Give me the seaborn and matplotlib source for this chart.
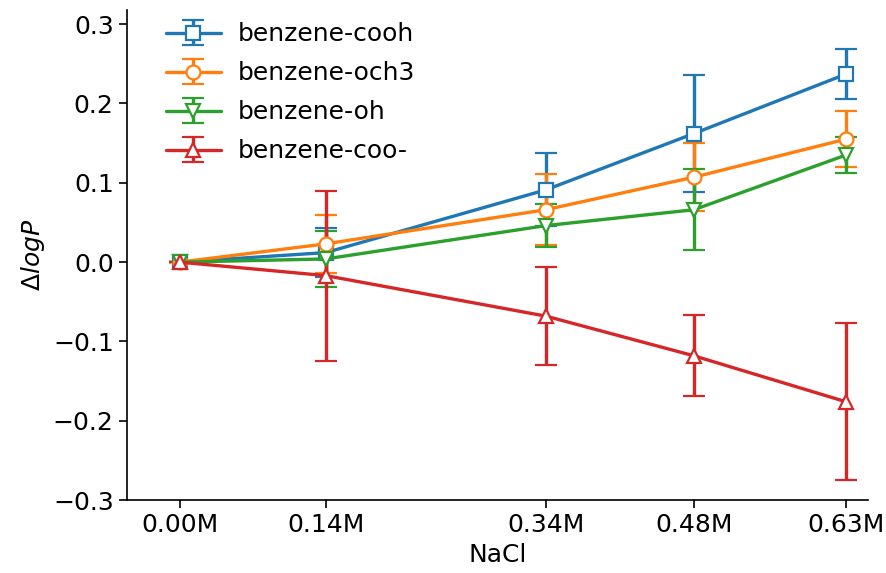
import matplotlib
matplotlib.use("Agg")
import matplotlib.pyplot as plt
import seaborn as sns

# NaCl concentrations (M) and tick labels
conc = [0.0, 0.138, 0.346, 0.486, 0.63]
conc_labels = ["0.00M", "0.14M", "0.34M", "0.48M", "0.63M"]

series_names = ["benzene-cooh", "benzene-och3", "benzene-oh", "benzene-coo-"]

cooh = [0.0, 0.012, 0.091, 0.162, 0.237]
cooh_err = [0.0, 0.031, 0.046, 0.074, 0.032]

och3 = [0.0, 0.023, 0.066, 0.107, 0.155]
och3_err = [0.0, 0.037, 0.045, 0.043, 0.035]

oh = [0.0, 0.004, 0.046, 0.066, 0.135]
oh_err = [0.0, 0.035, 0.027, 0.051, 0.023]

coo = [0.0, -0.017, -0.068, -0.118, -0.176]
coo_err = [0.0, 0.107, 0.062, 0.051, 0.099]

sns.set_style("ticks", rc={
    "axes.edgecolor": "black",
    "axes.labelcolor": "black",
    "text.color": "black",
    "xtick.color": "black",
    "ytick.color": "black",
})
palette = sns.color_palette("tab10")
plt.rcParams["font.family"] = ["DejaVu Sans"]

fig, ax = plt.subplots(figsize=(8.87, 5.73), dpi=100)
fig.subplots_adjust(left=0.143, right=0.979, bottom=0.127, top=0.983)

markers = ["s", "o", "v", "^"]
values = [cooh, och3, oh, coo]
errors = [cooh_err, och3_err, oh_err, coo_err]

for i, (name, y, e, m) in enumerate(zip(series_names, values, errors, markers)):
    ax.errorbar(conc, y, yerr=e, label=name, color=palette[i], marker=m,
                markersize=10, markerfacecolor="white", markeredgewidth=1.6,
                linewidth=2.4, elinewidth=2.4, capsize=8, capthick=2.4)

ax.set_xticks(conc)
ax.set_xticklabels(conc_labels)
ax.set_xlim(-0.05, 0.651)
ax.set_ylim(-0.3, 0.318)
ax.set_yticks([-0.3, -0.2, -0.1, 0.0, 0.1, 0.2, 0.3])
ax.tick_params(labelsize=18, width=1.2, length=6)
ax.set_xlabel("NaCl", fontsize=18)
ax.set_ylabel(r"$\Delta logP$", fontsize=18)
for s in ["left", "bottom"]:
    ax.spines[s].set_linewidth(1.2)
sns.despine(ax=ax)

ax.legend(loc="upper left", frameon=False, fontsize=18,
          bbox_to_anchor=(0.022, 1.02), handlelength=2.2, handletextpad=0.7,
          labelspacing=0.6)

fig.savefig("out.png", dpi=100)
